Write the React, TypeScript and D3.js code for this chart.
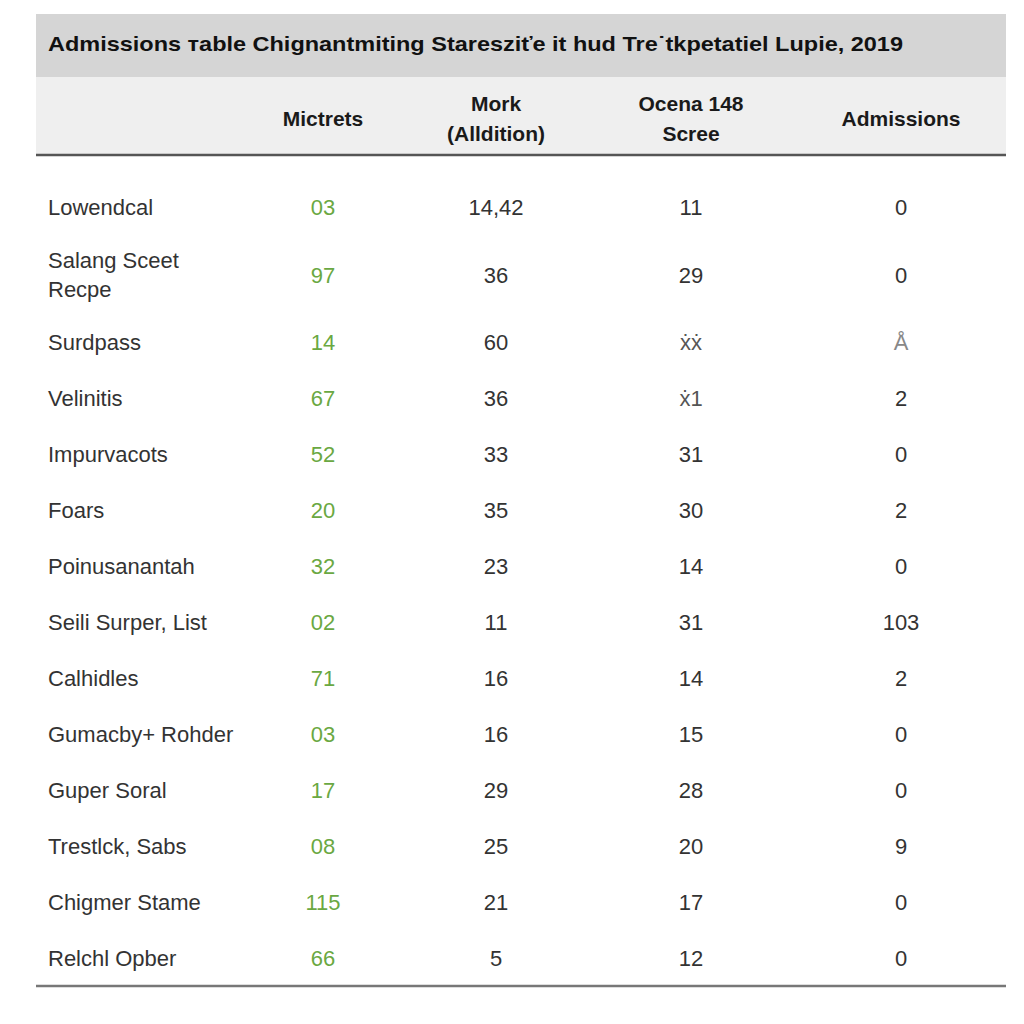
import React from "react";
import * as d3 from "d3";

const title = "Admissions \u1D1Bable Chignantmiting Stareszi\u0165e it hud Tre\u02D9tkpetatiel Lupie, 2019";

const headers = [["Mictrets"], ["Mork", "(Alldition)"], ["Ocena 148", "Scree"], ["Admissions"]];

const rowLabels = [
  ["Lowendcal"],
  ["Salang Sceet", "Recpe"],
  ["Surdpass"],
  ["Velinitis"],
  ["Impurvacots"],
  ["Foars"],
  ["Poinusanantah"],
  ["Seili Surper, List"],
  ["Calhidles"],
  ["Gumacby+ Rohder"],
  ["Guper Soral"],
  ["Trestlck, Sabs"],
  ["Chigmer Stame"],
  ["Relchl Opber"],
];

const mictrets = ["03", "97", "14", "67", "52", "20", "32", "02", "71", "03", "17", "08", "115", "66"];
const mork = ["14,42", "36", "60", "36", "33", "35", "23", "11", "16", "16", "29", "25", "21", "5"];
const ocena = ["11", "29", "\u1E8B\u1E8B", "\u1E8B1", "31", "30", "14", "31", "14", "15", "28", "20", "17", "12"];
const admissions = ["0", "0", "\u00C5", "2", "0", "2", "0", "103", "2", "0", "0", "9", "0", "0"];

const W = 1024;
const left = 36;
const right = 1006;
const titleTop = 14;
const titleBottom = 77;
const headerBottom = 155;
const bodyTop = 179;
const lineH = 56;
const extraLine = 23;

// column centres from column widths
const colKeys = ["label", "mictrets", "mork", "ocena", "admissions"];
const colWidths = [200, 174, 172, 218, 202];
const colStarts = [0, ...d3.cumsum(colWidths)].map((v) => v + left);
const colCenter = (i: number) => colStarts[i] + colWidths[i] / 2;

const rowHeights = rowLabels.map((l) => lineH + (l.length - 1) * extraLine);
const rowTops = [0, ...d3.cumsum(rowHeights)].map((v) => v + bodyTop);
const bodyBottom = rowTops[rowTops.length - 1];

const font = "'Liberation Sans', Arial, sans-serif";

export default function App() {
  const cols = [mictrets, mork, ocena, admissions];
  const colColor = (ci: number, v: string) => {
    if (ci === 0) return "#6aa842";
    if (/[\u1E8B\u00C5]/.test(v) && v.length === 1) return "#888";
    if (/\u1E8B/.test(v)) return "#555";
    return "#333";
  };
  return (
    <svg width={W} height={1024} style={{ position: "absolute", left: 0, top: 0, background: "#fff" }} fontFamily={font}>
      <rect x={0} y={0} width={W} height={1024} fill="#fff" />
      <rect x={left} y={titleTop} width={right - left} height={titleBottom - titleTop} fill="#d5d5d5" />
      <rect x={left} y={titleBottom} width={right - left} height={headerBottom - titleBottom} fill="#efefef" />
      <text x={48} y={51} fontSize={21} fontWeight="bold" fill="#111" textLength={855} lengthAdjust="spacingAndGlyphs">
        {title}
      </text>
      {headers.map((h, i) => (
        <text key={colKeys[i + 1]} x={colCenter(i + 1)} textAnchor="middle" fontSize={21} fontWeight="bold" fill="#1a1a1a">
          {h.map((line, j) => (
            <tspan key={j} x={colCenter(i + 1)} y={126 + (j - (h.length - 1) / 2) * 30}>
              {line}
            </tspan>
          ))}
        </text>
      ))}
      <line x1={left} x2={right} y1={headerBottom} y2={headerBottom} stroke="#555" strokeWidth={2.5} />
      {rowLabels.map((lab, r) => {
        const cy = rowTops[r] + rowHeights[r] / 2;
        return (
          <g key={r}>
            <text x={48} fontSize={22} fill="#333">
              {lab.map((line, j) => (
                <tspan key={j} x={48} y={cy + 8 + (j - (lab.length - 1) / 2) * 29}>
                  {line}
                </tspan>
              ))}
            </text>
            {cols.map((col, ci) => (
              <text
                key={ci}
                x={colCenter(ci + 1)}
                y={cy + 8}
                textAnchor="middle"
                fontSize={22}
                fill={colColor(ci, col[r])}
              >
                {col[r]}
              </text>
            ))}
          </g>
        );
      })}
      <line x1={left} x2={right} y1={bodyBottom} y2={bodyBottom} stroke="#777" strokeWidth={2.5} />
    </svg>
  );
}
